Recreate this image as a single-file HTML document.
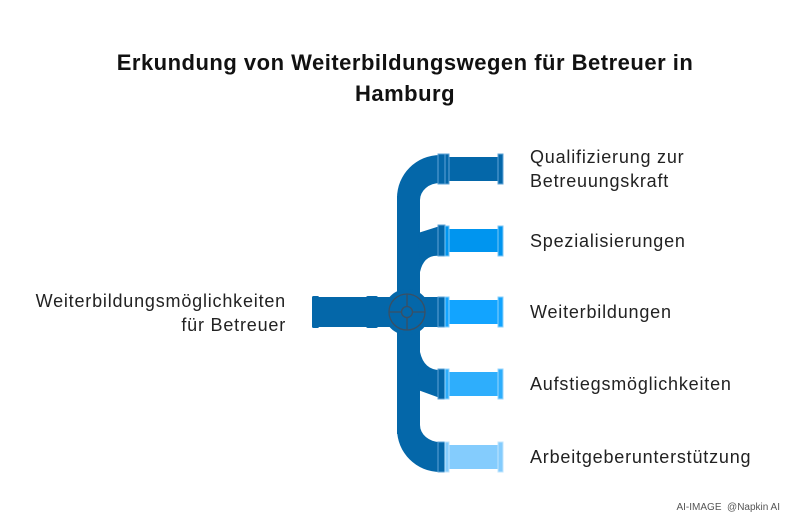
<!DOCTYPE html>
<html><head><meta charset="utf-8"><style>
html,body{margin:0;padding:0;background:#fff}
body{width:792px;height:519px;position:relative;overflow:hidden;font-family:"Liberation Sans",Arial,sans-serif}
.t{position:absolute;left:0;width:810px;text-align:center;font-weight:bold;font-size:22px;letter-spacing:0.5px;color:#111;line-height:31px;top:47px}
.l{position:absolute;font-size:18px;letter-spacing:0.8px;color:#222;line-height:24px}
.wm{position:absolute;right:12px;top:502px;font-size:10px;color:#555}
</style></head><body>
<div class="t">Erkundung von Weiterbildungswegen für Betreuer in<br>Hamburg</div>
<svg width="792" height="519" style="position:absolute;left:0;top:0">
<g fill="#0467a9">
<rect x="397" y="196" width="23" height="238"/>
<path d="M397,215 L397,198 A43,43 0 0 1 440,155 L440,183 A20,17 0 0 0 420,200 L420,215 Z"/>
<path d="M397,415 L397,429 A43,43 0 0 0 440,472 L440,442 A20,17 0 0 1 420,425 L420,415 Z"/>
<path d="M418,233 L440,226 L440,256 Q424,254 420,272 Z"/>
<path d="M418,390 L440,398 L440,370 Q424,370 420,352 Z"/>
<rect x="318" y="297" width="122" height="30"/>
<rect x="312" y="296" width="7" height="32" rx="1.5"/>
<rect x="366" y="296" width="12" height="32" rx="2"/>
<circle cx="407" cy="312" r="23"/>
</g>
<g fill="none" stroke="#3a4f63" stroke-width="1.3">
<circle cx="407" cy="312" r="18"/><circle cx="407" cy="312" r="5.5"/>
<path d="M389,312H401.5M412.5,312H425M407,294V306.5M407,317.5V330"/>
</g>
<g>
<rect x="438" y="154" width="7" height="30" fill="#0467a9" stroke="#5fa3d6" stroke-width="1"/>
<rect x="448" y="157" width="52" height="24" fill="#0467a9"/>
<rect x="445" y="154" width="4" height="30" fill="#0467a9" stroke="#5fa3d6"/>
<rect x="498" y="154" width="5" height="30" fill="#0467a9" stroke="#5fa3d6"/>

<rect x="438" y="225" width="7" height="31" fill="#0467a9" stroke="#5fa3d6"/>
<rect x="448" y="229" width="52" height="23" fill="#0095ef"/>
<rect x="445" y="226" width="4" height="30" fill="#0095ef" stroke="#7cc6f5"/>
<rect x="498" y="226" width="5" height="30" fill="#0095ef" stroke="#7cc6f5"/>

<rect x="438" y="297" width="7" height="30" fill="#0467a9" stroke="#5fa3d6"/>
<rect x="448" y="300" width="52" height="24" fill="#12a4ff"/>
<rect x="445" y="297" width="4" height="30" fill="#12a4ff" stroke="#8ad0fb"/>
<rect x="498" y="297" width="5" height="30" fill="#12a4ff" stroke="#8ad0fb"/>

<rect x="438" y="369" width="7" height="30" fill="#0467a9" stroke="#5fa3d6"/>
<rect x="448" y="372" width="52" height="24" fill="#2eaefc"/>
<rect x="445" y="369" width="4" height="30" fill="#2eaefc" stroke="#9ad6fc"/>
<rect x="498" y="369" width="5" height="30" fill="#2eaefc" stroke="#9ad6fc"/>

<rect x="438" y="442" width="7" height="30" fill="#0467a9" stroke="#5fa3d6"/>
<rect x="448" y="445" width="52" height="24" fill="#84ccfd"/>
<rect x="445" y="442" width="4" height="30" fill="#84ccfd" stroke="#c0e5fd"/>
<rect x="498" y="442" width="5" height="30" fill="#84ccfd" stroke="#c0e5fd"/>
</g>
</svg>
<div class="l" style="left:530px;top:145px">Qualifizierung zur<br>Betreuungskraft</div>
<div class="l" style="left:530px;top:229px">Spezialisierungen</div>
<div class="l" style="left:530px;top:300px">Weiterbildungen</div>
<div class="l" style="left:530px;top:372px">Aufstiegsmöglichkeiten</div>
<div class="l" style="left:530px;top:445px">Arbeitgeberunterstützung</div>
<div class="l" style="right:506px;top:289px;text-align:right">Weiterbildungsmöglichkeiten<br>für Betreuer</div>
<div class="wm">AI-IMAGE &nbsp;@Napkin AI</div>
</body></html>
